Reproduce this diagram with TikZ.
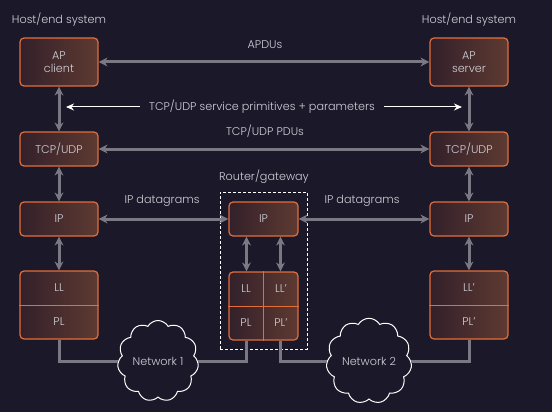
\documentclass[tikz,border=0pt]{standalone}
\usepackage{fontspec}
\setmainfont{Poppins Light}
\usetikzlibrary{arrows.meta,shapes.symbols}
\definecolor{bg}{HTML}{1A1829}
\definecolor{boxL}{HTML}{33202A}
\definecolor{boxR}{HTML}{5E3A31}
\definecolor{edge}{HTML}{E46E3A}
\definecolor{arr}{HTML}{7A7883}
\definecolor{txt}{HTML}{D0D0D8}
\begin{document}
\begin{tikzpicture}[x=1pt,y=-1pt,
  lbl/.style={text=txt, font=\fontsize{11.2}{13}\selectfont, inner sep=1pt, align=center},
  layerbox/.style={draw=edge, line width=1.2pt, rounded corners=4pt, left color=boxL, right color=boxR,
    text=txt, font=\fontsize{11.2}{13}\selectfont, align=center, inner sep=0pt},
  hostbox/.style={layerbox, minimum width=78pt},
  divider/.style={draw=edge, line width=0.8pt},
  biarr/.style={draw=arr, line width=3pt, {Stealth[length=9pt,width=9pt]}-{Stealth[length=9pt,width=9pt]}},
  warr/.style={draw=white, line width=1pt, -{Stealth[length=8pt,width=7pt]}},
  netline/.style={draw=arr, line width=3pt},
  netcloud/.style={cloud, cloud puffs=11, cloud puff arc=120, aspect=1, draw=white, fill=bg, line width=1pt,
    minimum width=81pt, minimum height=81pt, inner sep=0pt, text=txt, font=\fontsize{11.2}{13}\selectfont},
  gateway/.style={draw=white, line width=0.9pt, dash pattern=on 3pt off 2pt}
]
\fill[bg] (0,0) rectangle (552,412);
\useasboundingbox (0,0) rectangle (552,412);

% labels
\node[lbl] (h1) at (59,20) {Host/end system};
\node[lbl] (h2) at (469,20) {Host/end system};
\node[lbl] (rg) at (264,177) {Router/gateway};

% router dashed box
\node[gateway, minimum width=87pt, minimum height=157pt] (rtr) at (263.5,270.5) {};

% left host
\node[hostbox, minimum height=48pt] (apc) at (59,62) {AP\\client};
\node[hostbox, minimum height=34pt] (tcpl) at (59,149) {TCP/UDP};
\node[hostbox, minimum height=34pt] (ipl) at (59,219) {IP};
\node[hostbox, minimum height=68pt] (lpl) at (59,305) {};
\draw[divider] (lpl.west) -- (lpl.east);
\node[lbl] (ll1) at (59,288) {LL};
\node[lbl] (pl1) at (59,322) {PL};

% right host
\node[hostbox, minimum height=48pt] (aps) at (469,62) {AP\\server};
\node[hostbox, minimum height=34pt] (tcpr) at (469,149) {TCP/UDP};
\node[hostbox, minimum height=34pt] (ipr) at (469,219) {IP};
\node[hostbox, minimum height=68pt] (lpr) at (469,305) {};
\draw[divider] (lpr.west) -- (lpr.east);
\node[lbl] (ll2) at (469,288) {LL'};
\node[lbl] (pl2) at (469,322) {PL'};

% router
\node[layerbox, minimum width=69pt, minimum height=34pt] (rip) at (263.5,219) {IP};
\node[layerbox, minimum width=69pt, minimum height=68pt] (rlp) at (263.5,306) {};
\draw[divider] (rlp.west) -- (rlp.east);
\draw[divider] (rlp.north) -- (rlp.south);
\node[lbl] (rll) at (246,289) {LL};
\node[lbl] (rll2) at (281,289) {LL'};
\node[lbl] (rpl) at (246,323) {PL};
\node[lbl] (rpl2) at (281,323) {PL'};

% horizontal peer arrows
\draw[biarr] (apc.east) -- (aps.west);
\node[lbl] (apdu) at (265,45) {APDUs};
\draw[biarr] (tcpl.east) -- (tcpr.west);
\node[lbl] (pdu) at (265,131) {TCP/UDP PDUs};
\draw[biarr] (ipl.east) -- (rip.west);
\node[lbl] (ipd1) at (162,201) {IP datagrams};
\draw[biarr] (rip.east) -- (ipr.west);
\node[lbl] (ipd2) at (362,201) {IP datagrams};

% vertical arrows
\draw[biarr] (apc.south) -- (tcpl.north);
\draw[biarr] (tcpl.south) -- (ipl.north);
\draw[biarr] (ipl.south) -- (lpl.north);
\draw[biarr] (aps.south) -- (tcpr.north);
\draw[biarr] (tcpr.south) -- (ipr.north);
\draw[biarr] (ipr.south) -- (lpr.north);
\draw[biarr] ([xshift=-17pt]rip.south) -- ([xshift=-17pt]rlp.north);
\draw[biarr] ([xshift=17pt]rip.south) -- ([xshift=17pt]rlp.north);

% service primitives
\node[lbl] (sp) at (262,107) {TCP/UDP service primitives + parameters};
\coordinate (wl) at (66,107);
\coordinate (wr) at (462,107);
\draw[warr] ([xshift=-8pt]sp.west) -- (wl);
\draw[warr] ([xshift=8pt]sp.east) -- (wr);

% networks
\node[netcloud] (net1) at (158,361) {Network 1};
\node[netcloud] (net2) at (369,361) {Network 2};
\draw[netline] (lpl.south) |- (net1.west);
\draw[netline] ([xshift=-17pt]rlp.south) |- (net1.east);
\draw[netline] ([xshift=17pt]rlp.south) |- (net2.west);
\draw[netline] (lpr.south) |- (net2.east);
\end{tikzpicture}
\end{document}
